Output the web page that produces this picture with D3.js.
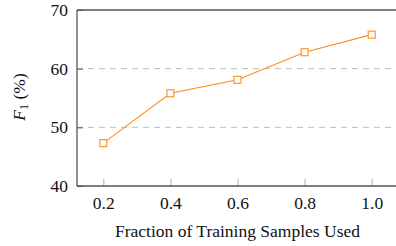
<!DOCTYPE html>
<html>
<head>
<meta charset="utf-8">
<script src="https://cdn.jsdelivr.net/npm/d3@7"></script>
<style>
  body { margin: 0; background: #fff; }
  svg text { font-family: "Liberation Serif", "DejaVu Serif", serif; fill: #111; }
</style>
</head>
<body>
<svg width="396" height="246"></svg>
<script>
var fractions = [0.2, 0.4, 0.6, 0.8, 1.0];
var f1 = [47.3, 55.8, 58.1, 62.8, 65.8];
var yTicks = [40, 50, 60, 70];
var gridValues = [50, 60];

var svg = d3.select("svg");
var margin = {top: 10, right: -30, bottom: 60, left: 77};
var width = 396 - margin.left - margin.right;
var height = 246 - margin.top - margin.bottom;

var g = svg.append("g")
  .attr("transform", "translate(" + margin.left + "," + margin.top + ")");

// x: 0.2 at ~103, 1.0 at ~372
var x = d3.scaleLinear().domain([0.2, 1.0]).range([26.3, 294.7]);
var y = d3.scaleLinear().domain([40, 70]).range([height, 0]);

// dashed grid
g.selectAll(".grid")
  .data(gridValues)
  .enter()
  .append("line")
  .attr("x1", 0)
  .attr("x2", width)
  .attr("y1", function(d) { return y(d); })
  .attr("y2", function(d) { return y(d); })
  .attr("stroke", "#bdbdbd")
  .attr("stroke-width", 1)
  .attr("stroke-dasharray", "6,5");

// x ticks (inside, light gray)
var xAxis = g.append("g")
  .attr("transform", "translate(0," + height + ")")
  .call(d3.axisBottom(x).tickValues(fractions).tickFormat(d3.format(".1f")).tickSizeInner(-7).tickSizeOuter(0));
xAxis.select(".domain").remove();
xAxis.selectAll(".tick line").attr("stroke", "#bbb").attr("stroke-width", 1.2);
xAxis.selectAll(".tick text").attr("y", 11).attr("font-size", "17.5px").attr("fill", "#111");

// y axis
var yAxis = g.append("g")
  .call(d3.axisLeft(y).tickValues(yTicks).tickSizeInner(-6).tickSizeOuter(0));
yAxis.select(".domain").remove();
yAxis.selectAll(".tick line").attr("stroke", "#555").attr("stroke-width", 1);
yAxis.selectAll(".tick text").attr("x", -9).attr("font-size", "17.5px").attr("fill", "#111");

// frame: left, bottom, top
g.append("line").attr("x1", 0).attr("x2", 0).attr("y1", 0).attr("y2", height)
  .attr("stroke", "#555").attr("stroke-width", 1.3);
g.append("line").attr("x1", 0).attr("x2", width).attr("y1", height).attr("y2", height)
  .attr("stroke", "#555").attr("stroke-width", 1.3);
g.append("line").attr("x1", 0).attr("x2", width).attr("y1", 0).attr("y2", 0)
  .attr("stroke", "#555").attr("stroke-width", 1.3);

var pts = fractions.map(function(d, i) { return [d, f1[i]]; });

g.append("path")
  .datum(pts)
  .attr("fill", "none")
  .attr("stroke", "#ff8c1a")
  .attr("stroke-width", 1.1)
  .attr("d", d3.line().x(function(d) { return x(d[0]); }).y(function(d) { return y(d[1]); }));

g.selectAll(".mark")
  .data(pts)
  .enter()
  .append("rect")
  .attr("x", function(d) { return x(d[0]) - 3.5; })
  .attr("y", function(d) { return y(d[1]) - 3.5; })
  .attr("width", 7)
  .attr("height", 7)
  .attr("fill", "#fff")
  .attr("stroke", "#ff8c1a")
  .attr("stroke-width", 1.1);

// axis labels
svg.append("text")
  .attr("x", 237.5)
  .attr("y", 237)
  .attr("text-anchor", "middle")
  .attr("font-size", "17.5px")
  .text("Fraction of Training Samples Used");

var yl = svg.append("text")
  .attr("transform", "translate(25,97) rotate(-90)")
  .attr("text-anchor", "middle")
  .attr("font-size", "17.5px");
yl.append("tspan").attr("font-style", "italic").text("F");
yl.append("tspan").attr("font-size", "12.5px").attr("dy", 3).text("1");
yl.append("tspan").attr("dy", -3).text(" (%)");
</script>
</body>
</html>
